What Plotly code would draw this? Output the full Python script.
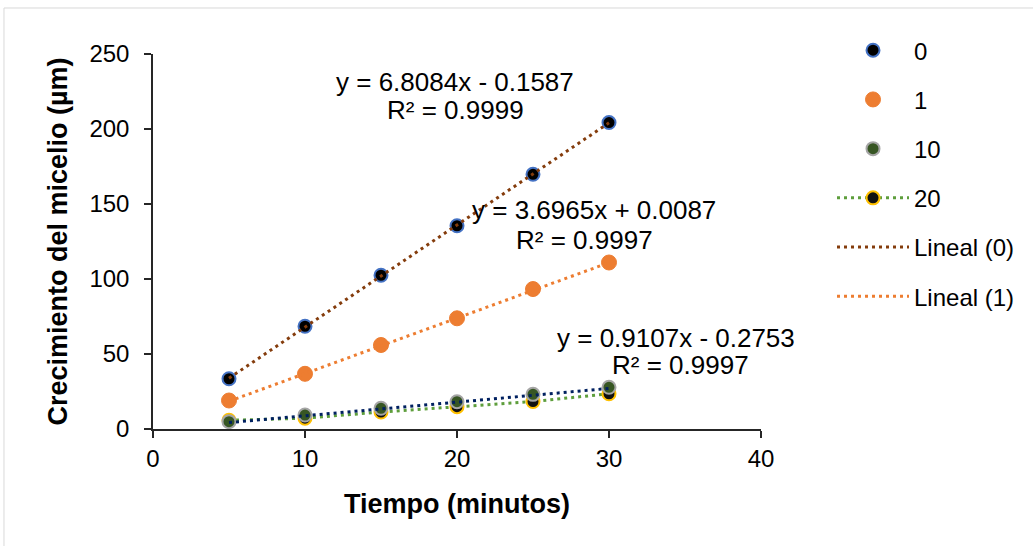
import plotly.graph_objects as go

# ---------------- data ----------------
tiempo = [5, 10, 15, 20, 25, 30]
serie_0 = [33.5, 68.5, 102.5, 135.5, 169.8, 204.3]
serie_1 = [19.0, 36.8, 56.0, 73.8, 93.3, 111.0]
serie_10 = [4.9, 9.3, 13.8, 18.2, 23.1, 27.8]
serie_20 = [5.8, 7.2, 11.3, 14.9, 18.3, 23.5]

trend_names = ["Lineal (0)", "Lineal (1)", "Lineal (10)"]
trend_slopes = [6.8084, 3.6965, 0.9107]
trend_intercepts = [-0.1587, 0.0087, -0.2753]
trend_r2 = [0.9999, 0.9997, 0.9997]
trend_x = [5, 30]

x_ticks = [0, 10, 20, 30, 40]
y_ticks = [0, 50, 100, 150, 200, 250]

FONT = "Liberation Sans, Arial, sans-serif"

fig = go.Figure()

# markers (drawing order: 0, 1, 20, 10)
fig.add_trace(go.Scatter(x=tiempo, y=serie_0, name="0", mode="markers", legendgroup="a", legendrank=1,
                         marker=dict(size=13, color="#000000", line=dict(color="#4472C4", width=2))))
fig.add_trace(go.Scatter(x=tiempo, y=serie_1, name="1", mode="markers", legendgroup="b", legendrank=2,
                         marker=dict(size=15, color="#ED7D31", line=dict(color="#ED7D31", width=1))))
fig.add_trace(go.Scatter(x=tiempo, y=serie_20, name="20", mode="lines+markers", legendgroup="d", legendrank=4,
                         line=dict(color="#5E9E3C", width=3, dash="3px,4px"),
                         marker=dict(size=13, color="#111111", line=dict(color="#FFC000", width=2))))
fig.add_trace(go.Scatter(x=tiempo, y=serie_10, name="10", mode="markers", legendgroup="c", legendrank=3,
                         marker=dict(size=13, color="#375623", line=dict(color="#A5A5A5", width=2))))

# trendlines
trend_colors = ["#843C0C", "#ED7D31", "#002060"]
for i, nm in enumerate(trend_names):
    ys = [trend_slopes[i] * xv + trend_intercepts[i] for xv in trend_x]
    fig.add_trace(go.Scatter(x=trend_x, y=ys, name=nm, mode="lines", legendgroup="t%d" % i,
                             legendrank=5 + i, showlegend=(i < 2),
                             line=dict(color=trend_colors[i], width=3, dash="3px,4px")))

def eq_text(i):
    m = trend_slopes[i]
    b = trend_intercepts[i]
    sign = "+" if b >= 0 else "-"
    return "y = %.4fx %s %.4f" % (m, sign, abs(b))

# annotation positions (data coords)
eq_pos = [(19.9, 231.5), (29.0, 146.0), (34.4, 61.0)]
r2_pos = [(19.9, 213.0), (28.4, 126.0), (34.7, 42.5)]
for i in range(3):
    fig.add_annotation(x=eq_pos[i][0], y=eq_pos[i][1], text=eq_text(i), showarrow=False,
                       xanchor="center", yanchor="middle", font=dict(family=FONT, size=26, color="#000000"))
    fig.add_annotation(x=r2_pos[i][0], y=r2_pos[i][1], text="R² = %.4f" % trend_r2[i], showarrow=False,
                       xanchor="center", yanchor="middle", font=dict(family=FONT, size=26, color="#000000"))

# outer border
fig.add_shape(type="rect", xref="paper", yref="paper", x0=-0.2451, x1=1.47, y0=-0.36, y1=1.1227,
              line=dict(color="#D9D9D9", width=1), fillcolor="rgba(0,0,0,0)", layer="below")

fig.update_layout(
    width=1033, height=546,
    margin=dict(l=153, r=272, t=54, b=117),
    paper_bgcolor="white", plot_bgcolor="white",
    font=dict(family=FONT, size=24, color="#000000"),
    legend=dict(x=1.1168, y=1.069, xanchor="left", yanchor="top", tracegroupgap=15,
                font=dict(family=FONT, size=24, color="#000000"), bgcolor="rgba(0,0,0,0)",
                itemwidth=72, traceorder="grouped", maxheight=520),
    xaxis=dict(range=[0, 40], tickvals=x_ticks, showline=True, linecolor="#262626", linewidth=1.5,
               ticks="outside", ticklen=7, tickwidth=1.5, tickcolor="#262626", showgrid=False, zeroline=False,
               tickfont=dict(family=FONT, size=24, color="#000000"),
               title=dict(text="<b>Tiempo (minutos)</b>", font=dict(family=FONT, size=27, color="#000000"),
                          standoff=24)),
    yaxis=dict(range=[0, 250], tickvals=y_ticks, showline=True, linecolor="#262626", linewidth=1.5,
               ticks="outside", ticklen=7, tickwidth=1.5, tickcolor="#262626", showgrid=False, zeroline=False,
               ticklabelstandoff=10,
               tickfont=dict(family=FONT, size=24, color="#000000"),
               title=dict(text="<b>Crecimiento del micelio (µm)</b>", font=dict(family=FONT, size=27, color="#000000"),
                          standoff=14)),
)

fig.write_html("out.html")
